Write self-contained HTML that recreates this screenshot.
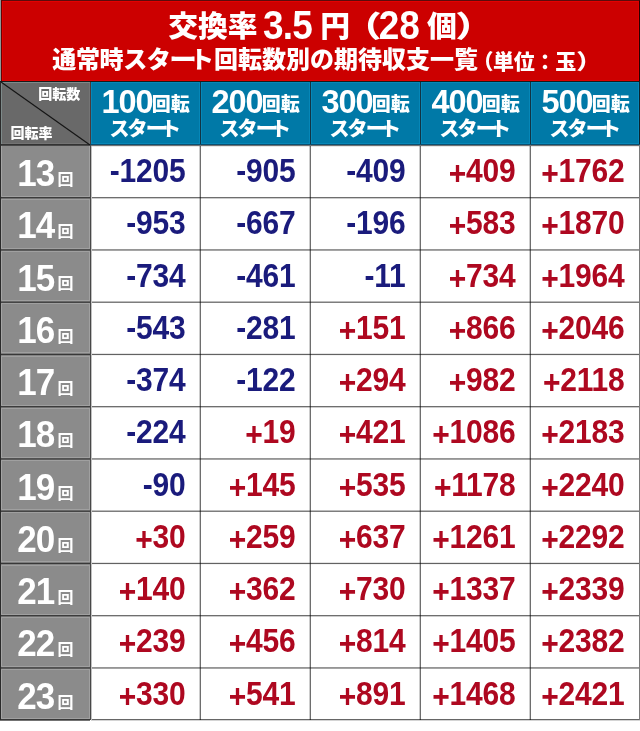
<!DOCTYPE html>
<html lang="ja"><head><meta charset="utf-8"><title>交換率 3.5円 期待収支</title><style>
*{margin:0;padding:0;box-sizing:border-box}
html,body{width:640px;height:731px;background:#fff;overflow:hidden}
body{position:relative;font-family:"Liberation Sans","Noto Sans CJK JP",sans-serif;font-weight:bold}
div,span{position:absolute}
.t{white-space:nowrap;line-height:normal;color:#fff}
.jp{font-family:"Liberation Sans","Noto Sans CJK JP",sans-serif}
.k{font-family:"Noto Sans CJK JP",sans-serif;font-weight:900}
.h{font-weight:900}
.n{font-family:"Liberation Sans",sans-serif}
.t1{font-size:29.8px;top:2px;transform:scaleY(.975);transform-origin:50% 68%}
.t1n{font-size:37px;top:6.4px;transform:scaleY(1.1);transform-origin:50% 78%}
.cr{font-size:14px}
.hn{font-size:32.5px;letter-spacing:-1.1px;top:84.2px}
.hk{font-size:19px;top:88.6px}
.hs{font-size:20px;letter-spacing:-2.1px;top:112.5px}
.ln{font-size:35px;letter-spacing:-1px;left:17.2px;transform:scaleY(1.05);transform-origin:50% 78%}
.lk{font-size:16px;left:57.6px;font-weight:700}
.d{font-size:30px;letter-spacing:-0.2px;text-align:right;transform:scaleY(1.08);transform-origin:50% 75%}
.ng{color:#1a1b7c}
.ps{color:#ae0820}
.bg{}
.pl{position:relative;top:2.5px}
</style></head><body>
<div class="bg" style="left:1px;top:0;width:639px;height:81px;background:#cc0000;border:1px solid #5a0c0c;border-bottom:0;border-left-color:#6a0000;border-right-color:#2a0000;box-shadow:inset 1px 1px 0 #e40000,inset -1px -1px 0 #dc0000"></div>
<div class="bg" style="left:0;top:0;width:1px;height:81px;background:#8a9a9a"></div>
<div class="t k h t1" style="left:168.25px">交換率</div>
<div class="t n t1n" style="left:263px;letter-spacing:-0.8px">3.5</div>
<div class="t k h t1" style="left:320.2px">円</div>
<div class="t k h t1" style="left:349.9px;transform:scale(1.3,.99);transform-origin:23.5px 68%">（</div>
<div class="t n t1n" style="left:378.8px">28</div>
<div class="t k h t1" style="left:427px">個</div>
<div class="t k h t1" style="left:457.2px;transform:scale(1.3,.99);transform-origin:6px 68%">）</div>
<div class="t k h" style="left:52.3px;top:39.9px;font-size:24px;letter-spacing:-0.37px">通常時スタ</div>
<div class="t k h" style="left:171px;top:39.9px;font-size:24px;transform:scaleX(1.15)">ー</div>
<div class="t k h" style="left:189.9px;top:39.9px;font-size:24px;letter-spacing:0">ト回転数別の期待収支一覧</div>
<div class="t k h" style="left:472.4px;top:44.7px;font-size:21px;letter-spacing:-0.3px">（単位：玉</div>
<div class="t k h" style="left:576.8px;top:44.7px;font-size:21px;transform:scaleX(1.2);transform-origin:4px 50%">）</div>
<div class="bg" style="left:0;top:81px;width:640px;height:1px;background:#1a1a1a"></div>
<div class="bg" style="left:1px;top:82px;width:89px;height:62px;background:#696969;box-shadow:inset 1px 1px 0 #7e8a8a,inset -1px -1px 0 #747474"></div>
<div class="bg" style="left:91px;top:82px;width:109px;height:62px;background:#0079a7;box-shadow:inset 1px 1px 0 #0687b8,inset -1px -1px 0 #0687b8"></div>
<div class="bg" style="left:201px;top:82px;width:109px;height:62px;background:#0079a7;box-shadow:inset 1px 1px 0 #0687b8,inset -1px -1px 0 #0687b8"></div>
<div class="bg" style="left:311px;top:82px;width:109px;height:62px;background:#0079a7;box-shadow:inset 1px 1px 0 #0687b8,inset -1px -1px 0 #0687b8"></div>
<div class="bg" style="left:421px;top:82px;width:109px;height:62px;background:#0079a7;box-shadow:inset 1px 1px 0 #0687b8,inset -1px -1px 0 #0687b8"></div>
<div class="bg" style="left:531px;top:82px;width:108px;height:62px;background:#0079a7;box-shadow:inset 1px 1px 0 #0687b8,inset -1px -1px 0 #0687b8"></div>
<div class="bg" style="left:90px;top:82px;width:1px;height:62px;background:#4a3a3a"></div>
<div class="bg" style="left:200px;top:82px;width:1px;height:62px;background:#123444"></div>
<div class="bg" style="left:310px;top:82px;width:1px;height:62px;background:#123444"></div>
<div class="bg" style="left:420px;top:82px;width:1px;height:62px;background:#123444"></div>
<div class="bg" style="left:530px;top:82px;width:1px;height:62px;background:#123444"></div>
<div class="bg" style="left:639px;top:82px;width:1px;height:62px;background:#0a2530"></div>
<div class="bg" style="left:0;top:82px;width:1px;height:638px;background:#2a2a2a"></div>
<div class="bg" style="left:0;top:144px;width:90px;height:1px;background:#333"></div>
<div class="bg" style="left:90px;top:144px;width:550px;height:1px;background:#0b4f70"></div>
<svg style="position:absolute;left:0;top:81px" width="91" height="65"><line x1="1" y1="1" x2="90" y2="64" stroke="#151515" stroke-width="1.15"/></svg>
<div class="t k cr" style="left:38.3px;top:83.1px">回転数</div>
<div class="t k cr" style="left:10.45px;top:122.4px">回転率</div>
<div class="t n hn" style="left:101.5px">100</div>
<div class="t k hk" style="left:151.8px">回転</div>
<div class="t k hs" style="left:109.4px;letter-spacing:-2px">スタ</div>
<div class="t k hs" style="left:146.6px;letter-spacing:0;transform:scaleX(1.16)">ー</div>
<div class="t k hs" style="left:161px;letter-spacing:0">ト</div>
<div class="t n hn" style="left:211.5px">200</div>
<div class="t k hk" style="left:261.8px">回転</div>
<div class="t k hs" style="left:219.4px;letter-spacing:-2px">スタ</div>
<div class="t k hs" style="left:256.6px;letter-spacing:0;transform:scaleX(1.16)">ー</div>
<div class="t k hs" style="left:271px;letter-spacing:0">ト</div>
<div class="t n hn" style="left:321.5px">300</div>
<div class="t k hk" style="left:371.8px">回転</div>
<div class="t k hs" style="left:329.4px;letter-spacing:-2px">スタ</div>
<div class="t k hs" style="left:366.6px;letter-spacing:0;transform:scaleX(1.16)">ー</div>
<div class="t k hs" style="left:381px;letter-spacing:0">ト</div>
<div class="t n hn" style="left:431.5px">400</div>
<div class="t k hk" style="left:481.8px">回転</div>
<div class="t k hs" style="left:439.4px;letter-spacing:-2px">スタ</div>
<div class="t k hs" style="left:476.6px;letter-spacing:0;transform:scaleX(1.16)">ー</div>
<div class="t k hs" style="left:491px;letter-spacing:0">ト</div>
<div class="t n hn" style="left:541.5px">500</div>
<div class="t k hk" style="left:591.8px">回転</div>
<div class="t k hs" style="left:549.4px;letter-spacing:-2px">スタ</div>
<div class="t k hs" style="left:586.6px;letter-spacing:0;transform:scaleX(1.16)">ー</div>
<div class="t k hs" style="left:601px;letter-spacing:0">ト</div>
<div class="bg" style="left:1px;top:145px;width:89px;height:575px;background:#8b8b8b"></div>
<div class="t n ln" style="top:154.00px">13</div>
<div class="t k lk" style="top:165.90px">回</div>
<div class="t n d ng" style="left:90px;top:155.00px;width:95.5px">-1205</div>
<div class="t n d ng" style="left:200px;top:155.00px;width:95.5px">-905</div>
<div class="t n d ng" style="left:310px;top:155.00px;width:95.5px">-409</div>
<div class="t n d ps" style="left:420px;top:155.00px;width:95.5px"><span class="pl">+</span>409</div>
<div class="t n d ps" style="left:530px;top:155.00px;width:94.5px"><span class="pl">+</span>1762</div>
<div class="t n ln" style="top:206.27px">14</div>
<div class="t k lk" style="top:218.17px">回</div>
<div class="t n d ng" style="left:90px;top:207.27px;width:95.5px">-953</div>
<div class="t n d ng" style="left:200px;top:207.27px;width:95.5px">-667</div>
<div class="t n d ng" style="left:310px;top:207.27px;width:95.5px">-196</div>
<div class="t n d ps" style="left:420px;top:207.27px;width:95.5px"><span class="pl">+</span>583</div>
<div class="t n d ps" style="left:530px;top:207.27px;width:94.5px"><span class="pl">+</span>1870</div>
<div class="t n ln" style="top:258.54px">15</div>
<div class="t k lk" style="top:270.44px">回</div>
<div class="t n d ng" style="left:90px;top:259.54px;width:95.5px">-734</div>
<div class="t n d ng" style="left:200px;top:259.54px;width:95.5px">-461</div>
<div class="t n d ng" style="left:310px;top:259.54px;width:95.5px">-11</div>
<div class="t n d ps" style="left:420px;top:259.54px;width:95.5px"><span class="pl">+</span>734</div>
<div class="t n d ps" style="left:530px;top:259.54px;width:94.5px"><span class="pl">+</span>1964</div>
<div class="t n ln" style="top:310.81px">16</div>
<div class="t k lk" style="top:322.71px">回</div>
<div class="t n d ng" style="left:90px;top:311.81px;width:95.5px">-543</div>
<div class="t n d ng" style="left:200px;top:311.81px;width:95.5px">-281</div>
<div class="t n d ps" style="left:310px;top:311.81px;width:95.5px"><span class="pl">+</span>151</div>
<div class="t n d ps" style="left:420px;top:311.81px;width:95.5px"><span class="pl">+</span>866</div>
<div class="t n d ps" style="left:530px;top:311.81px;width:94.5px"><span class="pl">+</span>2046</div>
<div class="t n ln" style="top:363.08px">17</div>
<div class="t k lk" style="top:374.98px">回</div>
<div class="t n d ng" style="left:90px;top:364.08px;width:95.5px">-374</div>
<div class="t n d ng" style="left:200px;top:364.08px;width:95.5px">-122</div>
<div class="t n d ps" style="left:310px;top:364.08px;width:95.5px"><span class="pl">+</span>294</div>
<div class="t n d ps" style="left:420px;top:364.08px;width:95.5px"><span class="pl">+</span>982</div>
<div class="t n d ps" style="left:530px;top:364.08px;width:94.5px"><span class="pl">+</span>2118</div>
<div class="t n ln" style="top:415.35px">18</div>
<div class="t k lk" style="top:427.25px">回</div>
<div class="t n d ng" style="left:90px;top:416.35px;width:95.5px">-224</div>
<div class="t n d ps" style="left:200px;top:416.35px;width:95.5px"><span class="pl">+</span>19</div>
<div class="t n d ps" style="left:310px;top:416.35px;width:95.5px"><span class="pl">+</span>421</div>
<div class="t n d ps" style="left:420px;top:416.35px;width:95.5px"><span class="pl">+</span>1086</div>
<div class="t n d ps" style="left:530px;top:416.35px;width:94.5px"><span class="pl">+</span>2183</div>
<div class="t n ln" style="top:467.62px">19</div>
<div class="t k lk" style="top:479.52px">回</div>
<div class="t n d ng" style="left:90px;top:468.62px;width:95.5px">-90</div>
<div class="t n d ps" style="left:200px;top:468.62px;width:95.5px"><span class="pl">+</span>145</div>
<div class="t n d ps" style="left:310px;top:468.62px;width:95.5px"><span class="pl">+</span>535</div>
<div class="t n d ps" style="left:420px;top:468.62px;width:95.5px"><span class="pl">+</span>1178</div>
<div class="t n d ps" style="left:530px;top:468.62px;width:94.5px"><span class="pl">+</span>2240</div>
<div class="t n ln" style="top:519.89px">20</div>
<div class="t k lk" style="top:531.79px">回</div>
<div class="t n d ps" style="left:90px;top:520.89px;width:95.5px"><span class="pl">+</span>30</div>
<div class="t n d ps" style="left:200px;top:520.89px;width:95.5px"><span class="pl">+</span>259</div>
<div class="t n d ps" style="left:310px;top:520.89px;width:95.5px"><span class="pl">+</span>637</div>
<div class="t n d ps" style="left:420px;top:520.89px;width:95.5px"><span class="pl">+</span>1261</div>
<div class="t n d ps" style="left:530px;top:520.89px;width:94.5px"><span class="pl">+</span>2292</div>
<div class="t n ln" style="top:572.16px">21</div>
<div class="t k lk" style="top:584.06px">回</div>
<div class="t n d ps" style="left:90px;top:573.16px;width:95.5px"><span class="pl">+</span>140</div>
<div class="t n d ps" style="left:200px;top:573.16px;width:95.5px"><span class="pl">+</span>362</div>
<div class="t n d ps" style="left:310px;top:573.16px;width:95.5px"><span class="pl">+</span>730</div>
<div class="t n d ps" style="left:420px;top:573.16px;width:95.5px"><span class="pl">+</span>1337</div>
<div class="t n d ps" style="left:530px;top:573.16px;width:94.5px"><span class="pl">+</span>2339</div>
<div class="t n ln" style="top:624.43px">22</div>
<div class="t k lk" style="top:636.33px">回</div>
<div class="t n d ps" style="left:90px;top:625.43px;width:95.5px"><span class="pl">+</span>239</div>
<div class="t n d ps" style="left:200px;top:625.43px;width:95.5px"><span class="pl">+</span>456</div>
<div class="t n d ps" style="left:310px;top:625.43px;width:95.5px"><span class="pl">+</span>814</div>
<div class="t n d ps" style="left:420px;top:625.43px;width:95.5px"><span class="pl">+</span>1405</div>
<div class="t n d ps" style="left:530px;top:625.43px;width:94.5px"><span class="pl">+</span>2382</div>
<div class="t n ln" style="top:676.70px">23</div>
<div class="t k lk" style="top:688.60px">回</div>
<div class="t n d ps" style="left:90px;top:677.70px;width:95.5px"><span class="pl">+</span>330</div>
<div class="t n d ps" style="left:200px;top:677.70px;width:95.5px"><span class="pl">+</span>541</div>
<div class="t n d ps" style="left:310px;top:677.70px;width:95.5px"><span class="pl">+</span>891</div>
<div class="t n d ps" style="left:420px;top:677.70px;width:95.5px"><span class="pl">+</span>1468</div>
<div class="t n d ps" style="left:530px;top:677.70px;width:94.5px"><span class="pl">+</span>2421</div>
<div class="bg" style="left:89px;top:146px;width:1px;height:573px;background:#a0a0a0"></div>
<div class="bg" style="left:1px;top:146px;width:1px;height:573px;background:#a4a4a4"></div>
<div class="bg" style="left:91px;top:145px;width:548px;height:1px;background:#727272"></div>
<div class="bg" style="left:91px;top:146px;width:548px;height:1px;background:#e8e8e8"></div>
<div class="bg" style="left:1px;top:145px;width:89px;height:1px;background:#484848"></div>
<div class="bg" style="left:1px;top:196px;width:89px;height:1px;background:#a0a0a0"></div>
<div class="bg" style="left:1px;top:199px;width:89px;height:1px;background:#a0a0a0"></div>
<div class="bg" style="left:0px;top:197px;width:90px;height:1px;background:#3c3c3c"></div>
<div class="bg" style="left:0px;top:198px;width:90px;height:1px;background:#6f6f6f"></div>
<div class="bg" style="left:91px;top:197px;width:549px;height:1px;background:#6e6e6e;mix-blend-mode:multiply"></div>
<div class="bg" style="left:91px;top:198px;width:549px;height:1px;background:#cccccc;mix-blend-mode:multiply"></div>
<div class="bg" style="left:1px;top:248px;width:89px;height:1px;background:#a0a0a0"></div>
<div class="bg" style="left:1px;top:251px;width:89px;height:1px;background:#a0a0a0"></div>
<div class="bg" style="left:0px;top:249px;width:90px;height:1px;background:#515151"></div>
<div class="bg" style="left:0px;top:250px;width:90px;height:1px;background:#5a5a5a"></div>
<div class="bg" style="left:91px;top:249px;width:549px;height:1px;background:#959595;mix-blend-mode:multiply"></div>
<div class="bg" style="left:91px;top:250px;width:549px;height:1px;background:#a5a5a5;mix-blend-mode:multiply"></div>
<div class="bg" style="left:1px;top:300px;width:89px;height:1px;background:#a0a0a0"></div>
<div class="bg" style="left:1px;top:303px;width:89px;height:1px;background:#a0a0a0"></div>
<div class="bg" style="left:0px;top:301px;width:90px;height:1px;background:#666666"></div>
<div class="bg" style="left:0px;top:302px;width:90px;height:1px;background:#454545"></div>
<div class="bg" style="left:91px;top:301px;width:549px;height:1px;background:#bcbcbc;mix-blend-mode:multiply"></div>
<div class="bg" style="left:91px;top:302px;width:549px;height:1px;background:#7d7d7d;mix-blend-mode:multiply"></div>
<div class="bg" style="left:1px;top:352px;width:89px;height:1px;background:#a0a0a0"></div>
<div class="bg" style="left:1px;top:356px;width:89px;height:1px;background:#a0a0a0"></div>
<div class="bg" style="left:0px;top:353px;width:90px;height:1px;background:#7b7b7b"></div>
<div class="bg" style="left:0px;top:354px;width:90px;height:1px;background:#383838"></div>
<div class="bg" style="left:0px;top:355px;width:90px;height:1px;background:#848484"></div>
<div class="bg" style="left:91px;top:353px;width:549px;height:1px;background:#e4e4e4;mix-blend-mode:multiply"></div>
<div class="bg" style="left:91px;top:354px;width:549px;height:1px;background:#626262;mix-blend-mode:multiply"></div>
<div class="bg" style="left:91px;top:355px;width:549px;height:1px;background:#f3f3f3;mix-blend-mode:multiply"></div>
<div class="bg" style="left:1px;top:405px;width:89px;height:1px;background:#a0a0a0"></div>
<div class="bg" style="left:1px;top:408px;width:89px;height:1px;background:#a0a0a0"></div>
<div class="bg" style="left:0px;top:406px;width:90px;height:1px;background:#3c3c3c"></div>
<div class="bg" style="left:0px;top:407px;width:90px;height:1px;background:#6f6f6f"></div>
<div class="bg" style="left:91px;top:406px;width:549px;height:1px;background:#6e6e6e;mix-blend-mode:multiply"></div>
<div class="bg" style="left:91px;top:407px;width:549px;height:1px;background:#cccccc;mix-blend-mode:multiply"></div>
<div class="bg" style="left:1px;top:457px;width:89px;height:1px;background:#a0a0a0"></div>
<div class="bg" style="left:1px;top:460px;width:89px;height:1px;background:#a0a0a0"></div>
<div class="bg" style="left:0px;top:458px;width:90px;height:1px;background:#515151"></div>
<div class="bg" style="left:0px;top:459px;width:90px;height:1px;background:#5a5a5a"></div>
<div class="bg" style="left:91px;top:458px;width:549px;height:1px;background:#959595;mix-blend-mode:multiply"></div>
<div class="bg" style="left:91px;top:459px;width:549px;height:1px;background:#a5a5a5;mix-blend-mode:multiply"></div>
<div class="bg" style="left:1px;top:509px;width:89px;height:1px;background:#a0a0a0"></div>
<div class="bg" style="left:1px;top:512px;width:89px;height:1px;background:#a0a0a0"></div>
<div class="bg" style="left:0px;top:510px;width:90px;height:1px;background:#666666"></div>
<div class="bg" style="left:0px;top:511px;width:90px;height:1px;background:#454545"></div>
<div class="bg" style="left:91px;top:510px;width:549px;height:1px;background:#bcbcbc;mix-blend-mode:multiply"></div>
<div class="bg" style="left:91px;top:511px;width:549px;height:1px;background:#7d7d7d;mix-blend-mode:multiply"></div>
<div class="bg" style="left:1px;top:561px;width:89px;height:1px;background:#a0a0a0"></div>
<div class="bg" style="left:1px;top:565px;width:89px;height:1px;background:#a0a0a0"></div>
<div class="bg" style="left:0px;top:562px;width:90px;height:1px;background:#7b7b7b"></div>
<div class="bg" style="left:0px;top:563px;width:90px;height:1px;background:#383838"></div>
<div class="bg" style="left:0px;top:564px;width:90px;height:1px;background:#848484"></div>
<div class="bg" style="left:91px;top:562px;width:549px;height:1px;background:#e4e4e4;mix-blend-mode:multiply"></div>
<div class="bg" style="left:91px;top:563px;width:549px;height:1px;background:#626262;mix-blend-mode:multiply"></div>
<div class="bg" style="left:91px;top:564px;width:549px;height:1px;background:#f3f3f3;mix-blend-mode:multiply"></div>
<div class="bg" style="left:1px;top:614px;width:89px;height:1px;background:#a0a0a0"></div>
<div class="bg" style="left:1px;top:617px;width:89px;height:1px;background:#a0a0a0"></div>
<div class="bg" style="left:0px;top:615px;width:90px;height:1px;background:#3c3c3c"></div>
<div class="bg" style="left:0px;top:616px;width:90px;height:1px;background:#6f6f6f"></div>
<div class="bg" style="left:91px;top:615px;width:549px;height:1px;background:#6e6e6e;mix-blend-mode:multiply"></div>
<div class="bg" style="left:91px;top:616px;width:549px;height:1px;background:#cccccc;mix-blend-mode:multiply"></div>
<div class="bg" style="left:1px;top:666px;width:89px;height:1px;background:#a0a0a0"></div>
<div class="bg" style="left:1px;top:669px;width:89px;height:1px;background:#a0a0a0"></div>
<div class="bg" style="left:0px;top:667px;width:90px;height:1px;background:#515151"></div>
<div class="bg" style="left:0px;top:668px;width:90px;height:1px;background:#5a5a5a"></div>
<div class="bg" style="left:91px;top:667px;width:549px;height:1px;background:#959595;mix-blend-mode:multiply"></div>
<div class="bg" style="left:91px;top:668px;width:549px;height:1px;background:#a5a5a5;mix-blend-mode:multiply"></div>
<div class="bg" style="left:1px;top:718px;width:89px;height:1px;background:#a0a0a0"></div>
<div class="bg" style="left:0px;top:719px;width:90px;height:1px;background:#383838"></div>
<div class="bg" style="left:0px;top:720px;width:90px;height:1px;background:#737373"></div>
<div class="bg" style="left:91px;top:719px;width:549px;height:1px;background:#666666;mix-blend-mode:multiply"></div>
<div class="bg" style="left:91px;top:720px;width:549px;height:1px;background:#d4d4d4;mix-blend-mode:multiply"></div>
<div class="bg" style="left:90px;top:145px;width:1px;height:575px;background:#484848"></div>
<div class="bg" style="left:91px;top:146px;width:1px;height:574px;background:#c0c0c0"></div>
<div class="bg" style="left:199px;top:146px;width:1px;height:574px;background:#cccccc;mix-blend-mode:multiply"></div>
<div class="bg" style="left:200px;top:146px;width:1px;height:574px;background:#6e6e6e;mix-blend-mode:multiply"></div>
<div class="bg" style="left:309px;top:146px;width:1px;height:574px;background:#cccccc;mix-blend-mode:multiply"></div>
<div class="bg" style="left:310px;top:146px;width:1px;height:574px;background:#6e6e6e;mix-blend-mode:multiply"></div>
<div class="bg" style="left:419px;top:146px;width:1px;height:574px;background:#cccccc;mix-blend-mode:multiply"></div>
<div class="bg" style="left:420px;top:146px;width:1px;height:574px;background:#6e6e6e;mix-blend-mode:multiply"></div>
<div class="bg" style="left:529px;top:146px;width:1px;height:574px;background:#cccccc;mix-blend-mode:multiply"></div>
<div class="bg" style="left:530px;top:146px;width:1px;height:574px;background:#6e6e6e;mix-blend-mode:multiply"></div>
<div class="bg" style="left:639px;top:145px;width:1px;height:575px;background:#7a7a7a"></div>
<div class="bg" style="left:0;top:82px;width:1px;height:638px;background:#2a2a2a"></div>
</body></html>
